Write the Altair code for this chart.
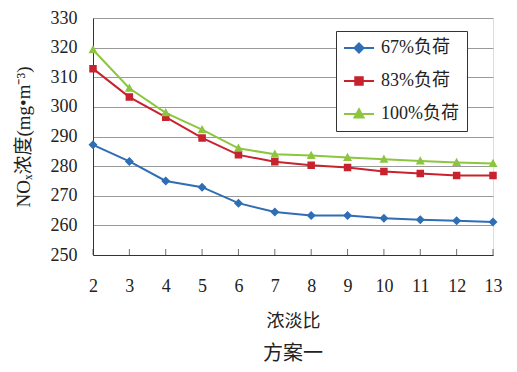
import altair as alt
import pandas as pd

ratio = [2, 3, 4, 5, 6, 7, 8, 9, 10, 11, 12, 13]
load_67 = [287.2, 281.6, 275.0, 272.9, 267.5, 264.5, 263.3, 263.3, 262.4, 261.9, 261.6, 261.1]
load_83 = [312.9, 303.3, 296.5, 289.5, 283.8, 281.5, 280.3, 279.5, 278.2, 277.5, 276.8, 276.8]
load_100 = [319.3, 306.3, 298.0, 292.3, 286.0, 284.0, 283.6, 282.9, 282.3, 281.7, 281.2, 280.9]
series_names = ["67%负荷", "83%负荷", "100%负荷"]
colors = ["#2f6db5", "#c8222f", "#8cc63f"]
shapes = [
    "M-3,0H3M0,-0.9L0.9,0L0,0.9L-0.9,0Z",
    "M-3,0H3M-0.75,-0.75H0.75V0.75H-0.75Z",
    "M-3,0H3M0,-0.95L0.9,0.7H-0.9Z",
]
y_ticks = [250, 260, 270, 280, 290, 300, 310, 320, 330]

rows = []
for name, vals in zip(series_names, [load_67, load_83, load_100]):
    for r, v in zip(ratio, vals):
        rows.append({"ratio": r, "value": v, "series": name})
df = pd.DataFrame(rows)

FONT = "Liberation Serif, Times New Roman, Noto Sans CJK SC"

x_enc = alt.X("ratio:Q", scale=alt.Scale(domain=[2, 13], nice=False, zero=False),
              axis=alt.Axis(values=ratio, title="浓淡比", grid=False, tickSize=0,
                            labelPadding=22, titlePadding=17, labelFontSize=18,
                            titleFontSize=18, labelFont=FONT, titleFont=FONT,
                            titleFontWeight="normal", domainColor="#333333",
                            labelColor="#222222", titleColor="#222222", labelFlush=False,
                            labelOverlap=False))
y_enc = alt.Y("value:Q", scale=alt.Scale(domain=[250, 330], nice=False, zero=False),
              axis=alt.Axis(values=y_ticks, title="NOₓ浓度(mg•m⁻³)", grid=True,
                            gridColor="#9a9a9a", gridWidth=1, tickSize=0, labelPadding=16,
                            labelFontSize=18, titleFontSize=19, labelFont=FONT,
                            titleFont=FONT, titleFontWeight="normal", titlePadding=17,
                            domainColor="#333333", labelColor="#222222", titleColor="#222222",
                            labelOverlap=False))

color_scale = alt.Scale(domain=series_names, range=colors)
leg = alt.Legend(title=None, orient="none", legendX=243, legendY=13,
                 strokeColor="#333333", padding=8, labelFontSize=18,
                 labelFont=FONT, labelColor="#222222", rowPadding=15,
                 symbolSize=100, symbolStrokeWidth=2, labelOffset=13,
                 symbolOffset=6, fillColor="white")

lines = alt.Chart(df).mark_line(strokeWidth=2).encode(
    x=x_enc, y=y_enc,
    stroke=alt.Stroke("series:N", scale=color_scale, legend=leg),
    detail="series:N",
)

points = alt.Chart(df).mark_point(filled=True, size=100, strokeWidth=0, opacity=1).encode(
    x=x_enc, y=y_enc,
    color=alt.Color("series:N", scale=color_scale, legend=leg),
    stroke=alt.Stroke("series:N", scale=color_scale, legend=leg),
    shape=alt.Shape("series:N", scale=alt.Scale(domain=series_names, range=shapes), legend=leg),
)

ticks = alt.Chart(pd.DataFrame({"ratio": ratio})).mark_tick(
    orient="vertical", size=6, thickness=1, color="#333333"
).encode(x=x_enc, y=alt.value(234))

chart = alt.layer(lines, points, ticks).properties(
    width=400, height=237,
    title=alt.TitleParams(text="方案一", orient="bottom", fontSize=20, font=FONT,
                          fontWeight="normal", color="#222222", offset=14),
    autosize=alt.AutoSizeParams(type="none"),
    padding={"left": 85, "top": 10, "right": 16, "bottom": 109},
).configure_view(stroke=None).configure(background="white")

chart.save("out.html", embed_options={"renderer": "svg", "actions": False})
